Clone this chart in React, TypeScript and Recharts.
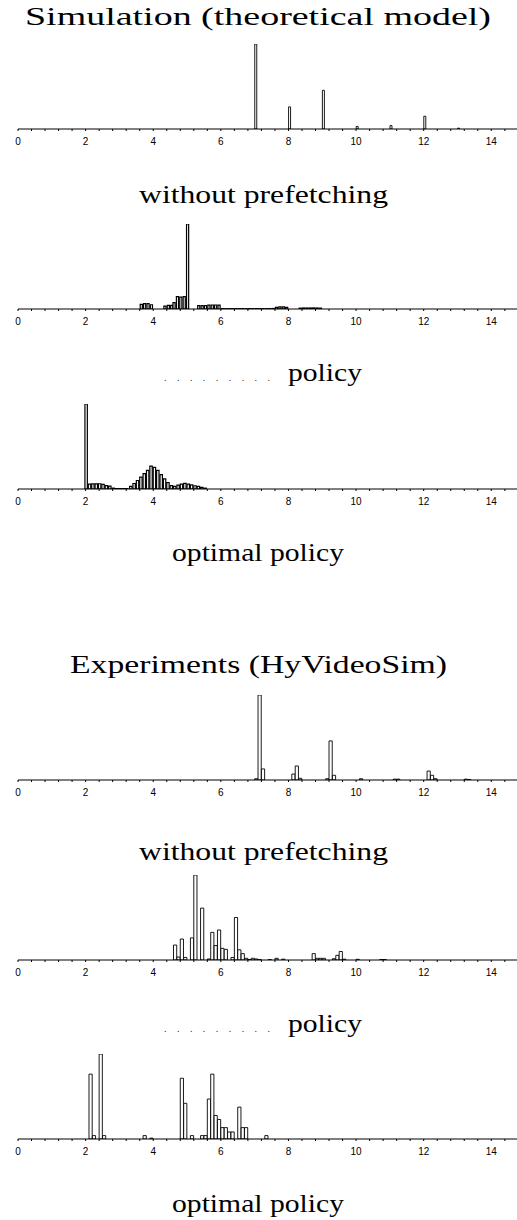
import React from 'react';
import { BarChart, Bar, XAxis, YAxis } from 'recharts';

// minor tick every 0.4, labels on the even integers
const axisTicks = [
  0, 0.4, 0.8, 1.2, 1.6, 2, 2.4, 2.8, 3.2, 3.6, 4, 4.4, 4.8, 5.2, 5.6, 6, 6.4, 6.8, 7.2, 7.6,
  8, 8.4, 8.8, 9.2, 9.6, 10, 10.4, 10.8, 11.2, 11.6, 12, 12.4, 12.8, 13.2, 13.6, 14, 14.4,
];
const tickLabels = ['0', '2', '4', '6', '8', '10', '12', '14'];

// Simulation (theoretical model)
const simNoneX = [7.03, 8.03, 9.03, 10.03, 11.03, 12.03, 13.03];
const simNoneH = [1.0, 0.26, 0.455, 0.03, 0.04, 0.15, 0.01];

const simDotsX = [
  3.65, 3.75, 3.85, 3.95, 4.35, 4.45, 4.55, 4.62, 4.72, 4.82, 4.92, 5.02,
  5.35, 5.45, 5.55, 5.65, 5.75, 5.85, 5.95, 6.05, 6.15, 6.25, 6.35, 6.45, 6.55, 6.65, 6.75,
  6.85, 6.95, 7.05, 7.15, 7.25, 7.35, 7.45, 7.55, 7.65, 7.75, 7.85, 7.95,
  8.35, 8.45, 8.55, 8.65, 8.75, 8.85, 8.95,
];
const simDotsH = [
  0.055, 0.063, 0.063, 0.05, 0.035, 0.043, 0.043, 0.075, 0.145, 0.14, 0.145, 1.0,
  0.04, 0.04, 0.04, 0.045, 0.047, 0.047, 0.045, 0.005, 0.004, 0.005, 0.004, 0.005, 0.004, 0.005, 0.004,
  0.005, 0.004, 0.005, 0.004, 0.005, 0.004, 0.005, 0.006, 0.02, 0.025, 0.024, 0.02,
  0.01, 0.012, 0.012, 0.012, 0.013, 0.012, 0.01,
];

const simOptX = [
  2.03, 2.13, 2.23, 2.33, 2.43, 2.53, 2.63, 2.73, 2.83, 2.93, 3.03, 3.13, 3.23,
  3.35, 3.45, 3.55, 3.65, 3.75, 3.85, 3.95, 4.05, 4.15, 4.25, 4.35, 4.45, 4.55,
  4.65, 4.75, 4.85, 4.95, 5.05, 5.15, 5.25, 5.35, 5.45, 5.55,
];
const simOptH = [
  1.0, 0.058, 0.06, 0.06, 0.062, 0.055, 0.04, 0.035, 0.01, 0.005, 0.005, 0.005, 0.005,
  0.03, 0.065, 0.1, 0.14, 0.18, 0.22, 0.27, 0.255, 0.22, 0.17, 0.12, 0.075, 0.04,
  0.03, 0.045, 0.058, 0.067, 0.058, 0.048, 0.038, 0.03, 0.02, 0.01,
];

// Experiments (HyVideoSim)
const expNoneX = [7.05, 7.15, 7.25, 8.15, 8.25, 8.35, 9.15, 9.25, 9.35, 10.15, 11.15, 11.25, 12.15, 12.25, 12.35, 13.25, 13.35];
const expNoneH = [0.015, 1.0, 0.13, 0.07, 0.165, 0.02, 0.015, 0.46, 0.055, 0.015, 0.01, 0.01, 0.105, 0.055, 0.015, 0.01, 0.006];

const expDotsX = [
  4.65, 4.75, 4.85, 4.95, 5.15, 5.25, 5.45, 5.65, 5.75, 5.85, 5.95, 6.05, 6.15, 6.35, 6.45, 6.55,
  6.65, 6.75, 6.85, 6.95, 7.05, 7.15, 7.45, 7.65, 7.85, 8.75, 8.85, 8.95, 9.05, 9.35, 9.45, 9.55,
  9.65, 10.05, 10.75, 10.85,
];
const expDotsH = [
  0.176, 0.035, 0.247, 0.03, 0.26, 1.0, 0.61, 0.012, 0.325, 0.17, 0.353, 0.137, 0.125, 0.03, 0.5, 0.12,
  0.075, 0.02, 0.006, 0.02, 0.012, 0.005, 0.005, 0.02, 0.01, 0.075, 0.02, 0.02, 0.02, 0.015, 0.055, 0.1,
  0.01, 0.008, 0.006, 0.006,
];

const expOptX = [
  2.15, 2.25, 2.45, 2.55, 3.75, 3.95, 4.85, 4.95, 5.15, 5.45, 5.55, 5.65, 5.75, 5.85, 5.95,
  6.05, 6.15, 6.25, 6.35, 6.55, 6.65, 6.75, 7.35,
];
const expOptH = [
  0.763, 0.04, 1.0, 0.04, 0.04, 0.01, 0.715, 0.42, 0.04, 0.04, 0.04, 0.47, 0.763, 0.277, 0.23,
  0.134, 0.134, 0.083, 0.083, 0.375, 0.134, 0.134, 0.04,
];

const AxisTick = (props: any) => {
  const { x, y, payload } = props;
  const v = payload.value;
  const major = Math.abs(v / 2 - Math.round(v / 2)) < 1e-6;
  return (
    <g>
      <line x1={x} x2={x} y1={y} y2={y - 2} stroke="#000" strokeWidth={1} />
      {major && (
        <text
          x={x}
          y={y + 14}
          textAnchor="middle"
          fontSize={10}
          fontFamily="'Liberation Sans', Arial, sans-serif"
          fill="#000"
        >
          {tickLabels[Math.round(v / 2)]}
        </text>
      )}
    </g>
  );
};

function Histogram({ xs, hs, barSize, stroke, baseline }: { xs: number[]; hs: number[]; barSize: number; stroke: number; baseline: number }) {
  const data = xs.map((x, i) => ({ x, h: hs[i] }));
  return (
    <div style={{ position: 'absolute', left: 0, top: baseline - 90 }}>
      <BarChart width={517} height={110} data={data} margin={{ top: 5, right: 0, left: 18, bottom: 0 }}>
        <XAxis
          dataKey="x"
          type="number"
          domain={[0, 14.76]}
          allowDataOverflow
          ticks={axisTicks}
          interval={0}
          tickSize={0}
          tickLine={false}
          height={20}
          axisLine={{ stroke: '#000', strokeWidth: 1 }}
          tick={<AxisTick />}
        />
        <YAxis hide domain={[0, 1]} allowDataOverflow />
        <Bar dataKey="h" fill="#fff" stroke="#000" strokeWidth={stroke} barSize={barSize} isAnimationActive={false} />
      </BarChart>
    </div>
  );
}

const serif = "'Liberation Serif', 'Times New Roman', serif";

function Caption({ text, y, x1, x2 }: { text: string; y: number; x1: number; x2: number }) {
  return (
    <text x={x1} y={y} fontSize={26} fontFamily={serif} textLength={x2 - x1} lengthAdjust="spacingAndGlyphs" fill="#000">
      {text}
    </text>
  );
}

function PolicyCaption({ y }: { y: number }) {
  return (
    <g>
      <text x={164} y={y} fontSize={10} fontFamily={serif} textLength={106} lengthAdjust="spacing" fill="#333">
        .........
      </text>
      <text x={288} y={y} fontSize={26} fontFamily={serif} textLength={74} lengthAdjust="spacingAndGlyphs" fill="#000">
        policy
      </text>
    </g>
  );
}

export default function App() {
  return (
    <div style={{ position: 'absolute', left: 0, top: 0, width: 517, height: 1220, background: '#fff' }}>
      <Histogram xs={simNoneX} hs={simNoneH} barSize={2} stroke={0.9} baseline={129} />
      <Histogram xs={simDotsX} hs={simDotsH} barSize={2.4} stroke={1.2} baseline={309} />
      <Histogram xs={simOptX} hs={simOptH} barSize={2.4} stroke={1.2} baseline={489} />
      <Histogram xs={expNoneX} hs={expNoneH} barSize={3.2} stroke={0.9} baseline={780} />
      <Histogram xs={expDotsX} hs={expDotsH} barSize={3.2} stroke={0.9} baseline={960} />
      <Histogram xs={expOptX} hs={expOptH} barSize={3.2} stroke={0.9} baseline={1139} />
      <svg width={517} height={1220} style={{ position: 'absolute', left: 0, top: 0, pointerEvents: 'none' }}>
        <Caption text="Simulation (theoretical model)" y={25} x1={25} x2={491} />
        <Caption text="without prefetching" y={203} x1={139} x2={388} />
        <PolicyCaption y={381} />
        <Caption text="optimal policy" y={561} x1={172} x2={344} />
        <Caption text="Experiments (HyVideoSim)" y={673} x1={70} x2={447} />
        <Caption text="without prefetching" y={860} x1={139} x2={388} />
        <PolicyCaption y={1032} />
        <Caption text="optimal policy" y={1212} x1={172} x2={344} />
      </svg>
    </div>
  );
}
